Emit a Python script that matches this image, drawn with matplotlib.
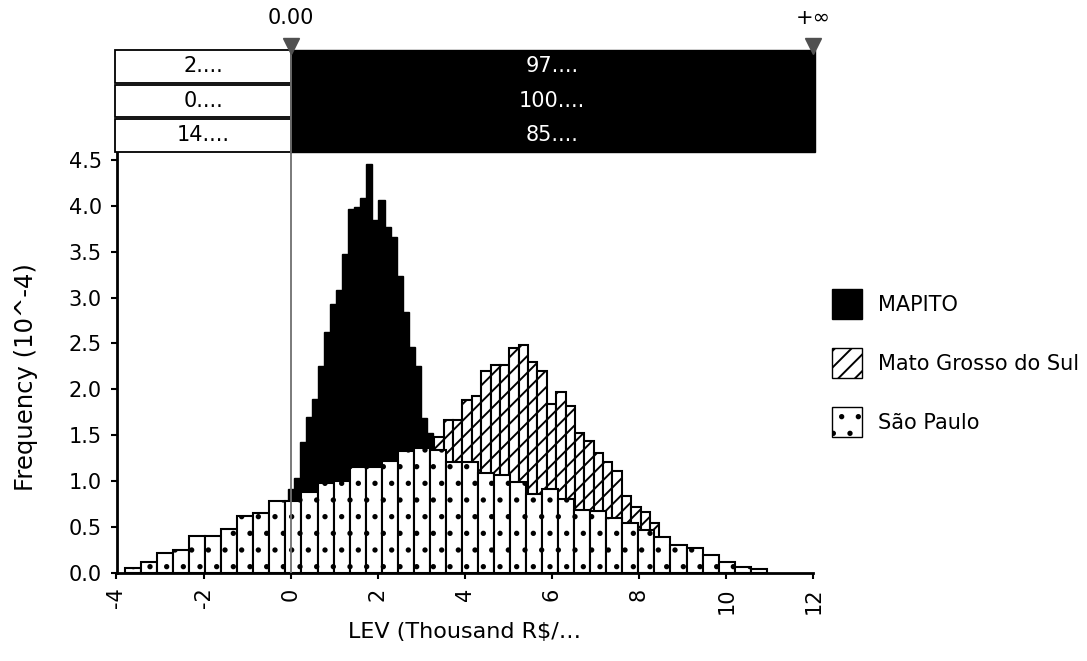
import matplotlib.pyplot as plt
import numpy as np
from matplotlib.patches import Rectangle, Patch

plt.rcParams['font.family'] = ['DejaVu Sans']
plt.rcParams['hatch.linewidth'] = 1.4

# histogram data, frequency in 10^-4, bins in thousand R$
mapito_start = -0.07
mapito_width = 0.139
mapito = [0.92, 1.03, 1.43, 1.70, 1.90, 2.25, 2.63, 2.93, 3.08, 3.48, 3.96, 3.99,
          4.09, 4.46, 3.85, 4.06, 3.77, 3.66, 3.24, 2.84, 2.46, 2.25, 1.69, 1.53]

mgs_start = 3.297
mgs_width = 0.2153
mato_grosso = [1.48, 1.67, 1.67, 1.88, 1.93, 2.20, 2.27, 2.27, 2.45, 2.48, 2.30, 2.20,
               1.84, 1.97, 1.82, 1.52, 1.44, 1.31, 1.21, 1.11, 0.84, 0.72, 0.66, 0.54]

sp_start = -3.805
sp_width = 0.3684
sao_paulo = [0.05, 0.12, 0.22, 0.25, 0.40, 0.40, 0.48, 0.62, 0.65, 0.78,
             0.78, 0.88, 0.98, 1.00, 1.15, 1.15, 1.22, 1.33, 1.36, 1.34,
             1.21, 1.21, 1.09, 1.07, 0.99, 0.86, 0.91, 0.81, 0.69, 0.67,
             0.60, 0.54, 0.47, 0.39, 0.30, 0.27, 0.20, 0.12, 0.07, 0.04]

series_names = ['MAPITO', 'Mato Grosso do Sul', 'São Paulo']

# delimiter table
cut_low, cut_high = 0.0, 12.0
cut_labels = ['0.00', '+∞']
pct_below = ['2....', '0....', '14....']
pct_above = ['97....', '100....', '85....']


def edges(start, width, n):
    return start + width * np.arange(n)


fig = plt.figure(figsize=(10.87, 6.61), dpi=100)
W, H = 1087, 661

# main plot
ax = fig.add_axes([116.5 / W, (H - 573) / H, 696.8 / W, 422.3 / H])
ax.bar(edges(mapito_start, mapito_width, len(mapito)), mapito, width=mapito_width,
       align='edge', color='black', edgecolor='black', lw=1.0, zorder=2)
ax.bar(edges(mgs_start, mgs_width, len(mato_grosso)), mato_grosso, width=mgs_width,
       align='edge', facecolor='white', edgecolor='black', hatch='//', lw=1.5, zorder=3)
ax.bar(edges(sp_start, sp_width, len(sao_paulo)), sao_paulo, width=sp_width,
       align='edge', facecolor='white', edgecolor='black', hatch='.', lw=1.5, zorder=4)
ax.axvline(cut_low, color='#707070', lw=1.3, zorder=5)

ax.set_xlim(-4, 12)
ax.set_ylim(0, 4.6)
ax.set_xticks(np.arange(-4, 13, 2))
ax.set_xticklabels([str(v) for v in range(-4, 13, 2)], rotation=90)
ax.set_yticks(np.arange(0, 4.51, 0.5))
ax.set_yticklabels([f'{v:.1f}' for v in np.arange(0, 4.51, 0.5)])
ax.tick_params(labelsize=15, length=4.5, width=1.5, pad=6)
for s in ['top', 'right']:
    ax.spines[s].set_visible(False)
for s in ['left', 'bottom']:
    ax.spines[s].set_linewidth(2)

ax.set_ylabel('Frequency (10^-4)', fontsize=17.5)
ax.yaxis.set_label_coords(-0.113, 0.464)
ax.set_xlabel(r'LEV (Thousand R\$/…', fontsize=16)
ax.xaxis.set_label_coords(0.5, -0.116)

# delimiter table on top
tax = fig.add_axes([116.5 / W, (H - 153) / H, 696.8 / W, 153 / H])
tax.set_xlim(-4, 12)
tax.set_ylim(153, 0)
tax.axis('off')
row_tops = [50, 84.5, 119]
row_h = 32.5
tax.add_patch(Rectangle((cut_low, 50), 12.04 - cut_low, 102, facecolor='black',
                        edgecolor='black', lw=1, clip_on=False))
for i, top in enumerate(row_tops):
    tax.add_patch(Rectangle((-4.04, top), 4.04, row_h, facecolor='white',
                            edgecolor='black', lw=1.3, clip_on=False))
    tax.text(-2.0, top + row_h / 2, pct_below[i], ha='center', va='center', fontsize=15)
    tax.text((cut_low + cut_high) / 2, top + row_h / 2, pct_above[i], ha='center',
             va='center', fontsize=15, color='white')
tax.plot([cut_low, cut_low], [48, 153], color='#707070', lw=1.3, clip_on=False)
tax.plot([cut_low, cut_high], [46, 46], ls='none', marker='v', ms=12,
         color='#505050', clip_on=False)
tax.text(cut_low, 18, cut_labels[0], ha='center', va='center', fontsize=15)
tax.text(cut_high, 18, cut_labels[1], ha='center', va='center', fontsize=15)

handles = [Patch(facecolor='black', edgecolor='black'),
           Patch(facecolor='white', edgecolor='black', hatch='//'),
           Patch(facecolor='white', edgecolor='black', hatch='.')]
fig.legend(handles=handles, labels=series_names, loc='upper left',
           bbox_to_anchor=(832 / W, 1 - 289 / H), frameon=False, fontsize=15,
           handlelength=1.44, handleheight=1.84, labelspacing=1.4,
           handletextpad=0.75, borderpad=0, borderaxespad=0)

fig.savefig('out.png', dpi=100)
